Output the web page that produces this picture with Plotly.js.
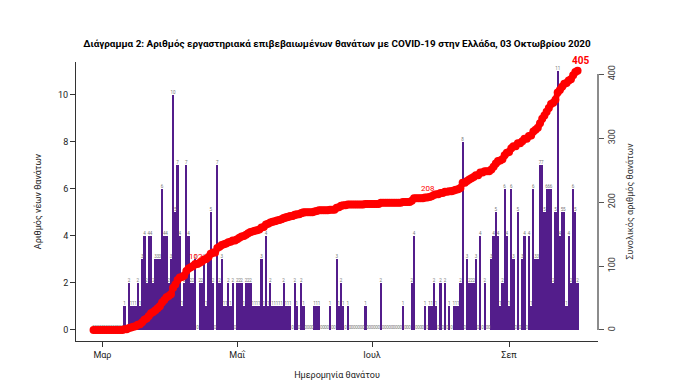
<!DOCTYPE html>
<html>
<head>
<meta charset="utf-8">
<script src="https://cdn.plot.ly/plotly-3.0.1.min.js"></script>
<style>html,body{margin:0;padding:0;background:#fff}#chart{width:700px;height:392px}</style>
</head>
<body>
<div id="chart"></div>
<script>
// Daily laboratory-confirmed COVID-19 deaths in Greece, by date of death (26 Feb – 2 Oct 2020)
const startDate = '2020-02-26';
const febDeaths = [0,0,0,0];
const marDeaths = [0,0,0,0,0,0,0,0,0,0,1,0,2,1,1,1,2,1,3,4,2,4,4,2,3,3,3,6,4,4,2];
const aprDeaths = [3,10,5,7,4,1,2,7,4,2,2,3,0,2,2,3,1,3,5,2,0,7,2,3,1,1,2,1,2,0];
const mayDeaths = [2,2,2,1,2,2,2,1,1,1,1,3,1,4,1,2,1,1,1,1,1,2,1,1,1,0,2,1,0,2,1];
const junDeaths = [0,0,0,0,1,1,1,0,0,0,0,1,0,0,3,1,2,1,0,1,0,0,0,0,0,0,0,1,0,0];
const julDeaths = [0,0,0,0,2,0,0,0,0,0,0,0,0,0,1,0,0,0,2,4,0,0,0,0,1,0,1,1,2,1,0];
const augDeaths = [2,0,2,0,1,0,1,1,1,2,8,0,3,2,2,2,3,0,4,0,2,0,0,3,4,5,4,1,2,6,4];
const sepDeaths = [1,6,3,0,5,0,3,4,0,4,1,6,3,3,7,7,5,6,6,6,2,5,11,4,5,5,1,4,2,6];
const octDeaths = [5,2];

// x-axis ticks
const tickDates = ['2020-03-01','2020-05-01','2020-07-01','2020-09-01'];
const tickLabels = ['Μαρ','Μαΐ','Ιουλ','Σεπ'];

// cumulative labels drawn on the red curve
const cumLabelDates = ['2020-04-12','2020-07-26','2020-10-02'];
const cumLabelValues = [102, 208, 405];

const dailyDeaths = [].concat(febDeaths, marDeaths, aprDeaths, mayDeaths, junDeaths, julDeaths, augDeaths, sepDeaths, octDeaths);
const dates = dailyDeaths.map((_, i) => {
  const d = new Date(startDate + 'T00:00:00Z');
  d.setUTCDate(d.getUTCDate() + i);
  return d.toISOString().slice(0, 10);
});
let run = 0;
const cumDeaths = dailyDeaths.map(v => (run += v));

const FONT = 'Roboto, "Noto Sans", "DejaVu Sans", sans-serif';

const traces = [
  {
    type: 'bar', x: dates, y: dailyDeaths, yaxis: 'y',
    marker: {color: '#531D8B', line: {width: 0}},
    hoverinfo: 'x+y', showlegend: false
  },
  {
    type: 'scatter', mode: 'text', x: dates, y: dailyDeaths, yaxis: 'y',
    text: dailyDeaths.map(String), textposition: 'top center',
    textfont: {family: FONT, size: 4.5, color: '#777'},
    hoverinfo: 'skip', showlegend: false, cliponaxis: false
  },
  {
    type: 'scatter', mode: 'lines+markers', x: dates, y: cumDeaths, yaxis: 'y2',
    line: {color: '#FF0000', width: 6},
    marker: {color: '#FF0000', size: 8},
    hoverinfo: 'x+y', showlegend: false
  }
];

const annotations = cumLabelDates.map((d, i) => ({
  x: d, y: cumLabelValues[i], xref: 'x', yref: 'y2',
  text: i === 2 ? '<b>' + cumLabelValues[i] + '</b>' : String(cumLabelValues[i]),
  showarrow: false,
  font: {family: FONT, size: i === 2 ? 10 : 8, color: '#FF0000'},
  xanchor: 'center', yanchor: 'bottom',
  xshift: i === 2 ? 3 : 1, yshift: i === 2 ? 3 : 2
}));

const layout = {
  width: 700, height: 392,
  paper_bgcolor: '#fff', plot_bgcolor: '#fff',
  margin: {l: 76, r: 102, t: 62, b: 51},
  font: {family: FONT, color: '#222'},
  bargap: 0,
  title: {
    text: '<b>Διάγραμμα 2: Αριθμός εργαστηριακά επιβεβαιωμένων θανάτων με COVID-19 στην Ελλάδα, 03 Οκτωβρίου 2020</b>',
    font: {family: FONT, size: 9.9, color: '#000'},
    x: 0.5, xanchor: 'center', xref: 'paper',
    y: 1 - 44/392, yref: 'container', yanchor: 'middle'
  },
  xaxis: {
    type: 'date', range: ['2020-02-18 01:12', '2020-10-11 06:00'],
    tickmode: 'array', tickvals: tickDates, ticktext: tickLabels,
    ticks: 'outside', ticklen: 5, tickcolor: '#333',
    showline: true, linecolor: '#333', linewidth: 1,
    showgrid: false, zeroline: false,
    tickfont: {family: FONT, size: 9, color: '#222'},
    title: {text: 'Ημερομηνία θανάτου', font: {family: FONT, size: 9, color: '#222'}, standoff: 12}
  },
  yaxis: {
    range: [-0.47, 11.4],
    tickvals: [0,2,4,6,8,10],
    ticks: 'outside', ticklen: 5, tickcolor: '#333',
    showline: true, linecolor: '#333', linewidth: 1,
    showgrid: false, zeroline: false,
    tickfont: {family: FONT, size: 9, color: '#222'},
    title: {text: 'Αριθμός νέων θανάτων', font: {family: FONT, size: 9, color: '#222'}, standoff: 14}
  },
  yaxis2: {
    overlaying: 'y', side: 'right',
    range: [-17.2, 418.8],
    tickvals: [0,100,200,300,400],
    ticks: 'outside', ticklen: 5, tickcolor: '#555',
    tickangle: -90,
    showline: false, showgrid: false, zeroline: false,
    tickfont: {family: FONT, size: 9, color: '#333'},
    title: {text: 'Συνολικός αριθμός θανάτων', font: {family: FONT, size: 9, color: '#333'}, standoff: 10}
  },
  shapes: [
    {type: 'line', xref: 'paper', yref: 'y2', x0: 1, x1: 1, y0: 0, y1: 400,
     line: {color: '#666', width: 1.5}}
  ],
  annotations: annotations
};

Plotly.newPlot('chart', traces, layout, {displayModeBar: false, staticPlot: true});
</script>
</body>
</html>
